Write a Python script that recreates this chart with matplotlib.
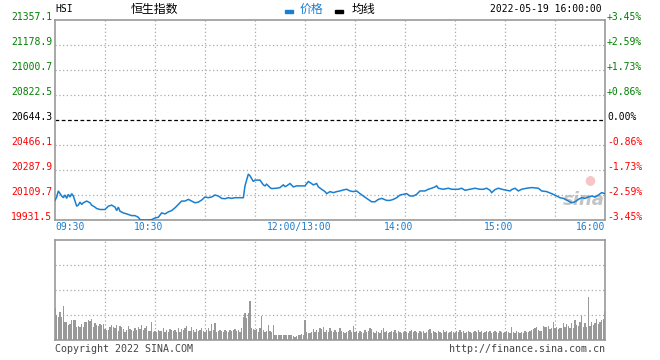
import matplotlib
matplotlib.use('Agg')
import matplotlib.pyplot as plt

# ---------------- data ----------------
prev_close = 20644.3
price_ticks = [21357.1, 21178.9, 21000.7, 20822.5, 20644.3, 20466.1, 20287.9, 20109.7, 19931.5]
pct_labels = ['+3.45%', '+2.59%', '+1.73%', '+0.86%', '0.00%', '-0.86%', '-1.73%', '-2.59%', '-3.45%']
time_labels = ['09:30', '10:30', '12:00/13:00', '14:00', '15:00', '16:00']
time_label_at = ['09:30', '10:30', '12:00', '14:00', '15:00', '16:00']
grid_times = ['10:00', '10:30', '11:00', '11:30', '12:00', '13:30', '14:00', '14:30', '15:00', '15:30']

price_times = [
    '09:30', '09:31', '09:32', '09:34', '09:35', '09:36', '09:37', '09:38', '09:39', '09:40',
    '09:41', '09:42', '09:43', '09:44', '09:45', '09:46', '09:47', '09:49', '09:51', '09:52',
    '09:54', '09:55', '09:57', '10:00', '10:02', '10:04', '10:06', '10:07', '10:08', '10:09',
    '10:11', '10:13', '10:16', '10:18', '10:20', '10:21', '10:24', '10:28', '10:30', '10:32',
    '10:34', '10:36', '10:38', '10:40', '10:42', '10:44', '10:46', '10:48', '10:50', '10:52',
    '10:54', '10:56', '10:58', '11:00', '11:02', '11:04', '11:06', '11:08', '11:10', '11:12',
    '11:14', '11:16', '11:18', '11:21', '11:23', '11:24', '11:25', '11:26', '11:27', '11:29',
    '11:30', '11:33', '11:35', '11:36', '11:37', '11:39', '11:40', '11:43', '11:45', '11:47',
    '11:48', '11:49', '11:51', '11:53', '11:55', '11:57', '12:00', '13:02', '13:03', '13:05',
    '13:07', '13:08', '13:10', '13:12', '13:13', '13:15', '13:17', '13:19', '13:21', '13:23',
    '13:25', '13:27', '13:29', '13:31', '13:33', '13:35', '13:37', '13:40', '13:42', '13:44',
    '13:46', '13:49', '13:51', '13:53', '13:55', '13:57', '13:59', '14:01', '14:03', '14:05',
    '14:07', '14:09', '14:12', '14:14', '14:16', '14:18', '14:19', '14:20', '14:23', '14:26',
    '14:28', '14:32', '14:34', '14:36', '14:39', '14:42', '14:45', '14:47', '14:49', '14:51',
    '14:52', '14:54', '14:56', '14:59', '15:01', '15:03', '15:04', '15:06', '15:08', '15:10',
    '15:13', '15:16', '15:20', '15:22', '15:25', '15:28', '15:31', '15:33', '15:35', '15:38',
    '15:40', '15:42', '15:44', '15:46', '15:48', '15:50', '15:52', '15:54', '15:56', '15:58',
    '16:00',
]
price_values = [
    20071.2, 20095.3, 20138.6, 20102.5, 20090.4, 20109.7, 20085.6, 20114.5, 20095.3, 20119.3,
    20102.5, 20066.4, 20030.2, 20037.5, 20059.1, 20042.3, 20054.3, 20066.4, 20054.3, 20037.5,
    20023.0, 20013.4, 20006.2, 20006.2, 20030.2, 20037.5, 20023.0, 19998.9, 20023.0, 19994.1,
    19982.1, 19974.9, 19962.8, 19962.8, 19950.8, 19933.9, 19931.5, 19933.9, 19946.0, 19950.8,
    19982.1, 19974.9, 19989.3, 19998.9, 20018.2, 20042.3, 20066.4, 20066.4, 20078.4, 20066.4,
    20054.3, 20059.1, 20073.6, 20095.3, 20090.4, 20095.3, 20109.7, 20102.5, 20085.6, 20083.2,
    20090.4, 20085.6, 20090.4, 20090.4, 20090.4, 20174.7, 20215.7, 20259.0, 20247.0, 20206.0,
    20215.7, 20215.7, 20181.9, 20174.7, 20186.8, 20162.7, 20155.5, 20157.9, 20162.7, 20181.9,
    20169.9, 20174.7, 20191.6, 20167.5, 20174.7, 20174.7, 20174.7, 20206.0, 20198.8, 20181.9,
    20191.6, 20167.5, 20150.6, 20133.8, 20119.3, 20133.8, 20126.6, 20133.8, 20138.6, 20145.8,
    20150.6, 20138.6, 20133.8, 20138.6, 20119.3, 20102.5, 20085.6, 20061.5, 20061.5, 20078.4,
    20085.6, 20071.2, 20071.2, 20078.4, 20090.4, 20109.7, 20114.5, 20119.3, 20102.5, 20102.5,
    20114.5, 20138.6, 20138.6, 20150.6, 20157.9, 20167.5, 20174.7, 20157.9, 20150.6, 20157.9,
    20150.6, 20150.6, 20157.9, 20143.4, 20150.6, 20157.9, 20150.6, 20150.6, 20157.9, 20143.4,
    20126.6, 20148.2, 20157.9, 20148.2, 20143.4, 20138.6, 20148.2, 20157.9, 20138.6, 20150.6,
    20157.9, 20162.7, 20157.9, 20138.6, 20133.8, 20119.3, 20102.5, 20090.4, 20085.6, 20066.4,
    20054.3, 20061.5, 20078.4, 20090.4, 20085.6, 20095.3, 20102.5, 20095.3, 20109.7, 20126.6,
    20119.3,
]

# one bar per trading minute (09:30 ... 16:00), relative volume
volume_values = [
    32, 25, 23, 28, 23, 34, 18, 18, 15, 16,
    20, 20, 20, 13, 14, 13, 16, 13, 18, 18,
    20, 19, 21, 13, 17, 15, 14, 16, 15, 16,
    11, 10, 10, 13, 15, 13, 12, 15, 9, 14,
    13, 11, 8, 10, 14, 11, 10, 9, 12, 10,
    13, 11, 15, 10, 12, 14, 9, 9, 18, 8,
    9, 8, 10, 9, 9, 12, 8, 10, 8, 11,
    10, 9, 10, 8, 12, 8, 11, 10, 12, 14,
    9, 9, 13, 10, 8, 11, 9, 10, 12, 9,
    8, 10, 12, 9, 16, 10, 17, 8, 9, 10,
    9, 8, 10, 9, 8, 10, 9, 10, 11, 9,
    10, 8, 12, 23, 27, 22, 27, 39, 12, 11,
    10, 11, 8, 12, 24, 10, 8, 9, 15, 9,
    8, 15, 5, 5, 5, 5, 5, 5, 5, 5,
    5, 5, 5, 4, 3, 4, 5, 5, 6, 5,
    20, 8, 7, 7, 8, 11, 8, 10, 8, 12,
    11, 13, 8, 10, 8, 12, 9, 8, 10, 8,
    8, 12, 9, 8, 7, 8, 9, 10, 8, 14,
    8, 9, 7, 9, 8, 7, 10, 8, 9, 12,
    11, 8, 7, 9, 8, 7, 10, 12, 8, 9,
    7, 8, 9, 8, 10, 7, 9, 8, 7, 8,
    9, 8, 7, 9, 10, 8, 9, 8, 7, 9,
    8, 9, 7, 8, 10, 11, 7, 9, 8, 7,
    9, 8, 7, 10, 8, 9, 7, 8, 9, 8,
    7, 9, 8, 10, 8, 9, 7, 8, 9, 8,
    7, 8, 9, 8, 10, 8, 9, 7, 8, 9,
    8, 9, 7, 8, 9, 8, 7, 9, 8, 7,
    8, 9, 8, 7, 13, 8, 7, 9, 8, 7,
    8, 7, 9, 8, 8, 9, 10, 11, 12, 13,
    10, 9, 9, 14, 13, 13, 14, 11, 12, 18,
    12, 13, 11, 12, 12, 17, 13, 16, 14, 12,
    17, 12, 20, 15, 14, 18, 24, 13, 17, 13,
    43, 14, 18, 15, 17, 21, 16, 18, 20, 21,
    29,
]
volume_max = 100


def to_index(t):
    h, m = map(int, t.split(':'))
    mins = h * 60 + m
    if mins <= 12 * 60:
        return mins - (9 * 60 + 30)
    return 150 + mins - 13 * 60


# ---------------- style ----------------
W, H, DPI = 660, 360, 100
MONO = 'DejaVu Sans Mono'
CJK = ['Noto Sans CJK SC', 'DejaVu Sans']
BLUE = '#1a7fd0'
GREEN = '#008000'
RED = '#ff0000'
BORDER = '#999999'
GRID = '#aaaaaa'
PT = 0.72  # points per pixel at 100 dpi

fig = plt.figure(figsize=(W / DPI, H / DPI), dpi=DPI)
fig.patch.set_facecolor('white')


def frac(x0, y0, x1, y1):
    return [x0 / W, 1 - y1 / H, (x1 - x0) / W, (y1 - y0) / H]


ax = fig.add_axes(frac(55, 20, 605, 220))
axv = fig.add_axes(frac(55, 240, 605, 340))

n_minutes = to_index('16:00')
grid_idx = [to_index(t) for t in grid_times]

for a in (ax, axv):
    a.set_xlim(0, n_minutes)
    a.set_xticks([])
    a.set_yticks([])
    for s in a.spines.values():
        s.set_color(BORDER)
        s.set_linewidth(1.2)
    for gi in grid_idx:
        a.axvline(gi, color=GRID, lw=0.9, ls=(0, (1, 2)), zorder=0)

# main pane
ax.set_ylim(price_ticks[-1], price_ticks[0])
for v in price_ticks[1:-1]:
    if v == prev_close:
        ax.axhline(v, color='black', lw=0.9, ls=(0, (3, 2)), zorder=1)
    else:
        ax.axhline(v, color=GRID, lw=0.9, ls=(0, (1, 2)), zorder=0)

xs = [to_index(t) for t in price_times]
ax.plot(xs, price_values, color=BLUE, lw=1.1, zorder=3, solid_joinstyle='miter')

for v, pl in zip(price_ticks, pct_labels):
    c = GREEN if v > prev_close else (RED if v < prev_close else 'black')
    ax.annotate(f'{v:.1f}', xy=(0, v), xycoords=('axes fraction', 'data'),
                xytext=(-3 * PT, 3 * PT), textcoords='offset points',
                ha='right', va='center', fontsize=7, family=MONO, color=c)
    ax.annotate(pl, xy=(1, v), xycoords=('axes fraction', 'data'),
                xytext=(2 * PT, 3 * PT), textcoords='offset points',
                ha='left', va='center', fontsize=7, family=MONO, color=c)

# time labels
for lab, t in zip(time_labels, time_label_at):
    i = to_index(t)
    if i == 0:
        ha, dx = 'left', 0
    elif i == n_minutes:
        ha, dx = 'right', 0
    else:
        ha, dx = 'center', -6
    ax.annotate(lab, xy=(i, 0), xycoords=('data', 'axes fraction'),
                xytext=(dx * PT, -7 * PT), textcoords='offset points',
                ha=ha, va='center', fontsize=7, family=MONO, color=BLUE)

# sina watermark
ax.text(0.962, 0.1, 'sina', transform=ax.transAxes, fontsize=13, fontweight='bold',
        fontstyle='italic', color='#b0b0b0', alpha=0.75, ha='center', va='center',
        family='DejaVu Sans', zorder=2)
ax.text(0.972, 0.2, '\u25cf', transform=ax.transAxes, fontsize=9,
        color='#f0a0a0', alpha=0.6, ha='center', va='center', zorder=2)

# volume pane
axv.set_ylim(0, volume_max)
for frac_v in (0.25, 0.5, 0.75):
    axv.axhline(volume_max * frac_v, color=GRID, lw=0.9, ls=(0, (1, 2)), zorder=0)
axv.bar(range(len(volume_values)), volume_values, width=0.62, color='#999999',
        linewidth=0, zorder=2, antialiased=False)

# header
fig.text(55 / W, 1 - 9 / H, 'HSI', fontsize=7, family=MONO, color='black', va='center', ha='left')
fig.text(154 / W, 1 - 9.5 / H, '恒生指数', fontsize=8.6, family=CJK, color='black', va='center', ha='center')
fig.patches.append(plt.Rectangle((285 / W, 1 - 12.5 / H), 8 / W, 3 / H, transform=fig.transFigure,
                                 color=BLUE, figure=fig))
fig.text(300 / W, 1 - 9.5 / H, '价格', fontsize=8.6, family=CJK, color=BLUE, va='center', ha='left')
fig.patches.append(plt.Rectangle((335 / W, 1 - 12.5 / H), 8 / W, 3 / H, transform=fig.transFigure,
                                 color='black', figure=fig))
fig.text(352 / W, 1 - 9.5 / H, '均线', fontsize=8.6, family=CJK, color='black', va='center', ha='left')
fig.text(602 / W, 1 - 9 / H, '2022-05-19 16:00:00', fontsize=7, family=MONO, color='black',
         va='center', ha='right')

# footer
fig.text(55 / W, 1 - 349 / H, 'Copyright 2022 SINA.COM', fontsize=7.2, family=MONO,
         color='#444444', va='center', ha='left')
fig.text(605 / W, 1 - 349 / H, 'http://finance.sina.com.cn', fontsize=7.2, family=MONO,
         color='#444444', va='center', ha='right')

fig.savefig('out.png', dpi=DPI, facecolor='white')
